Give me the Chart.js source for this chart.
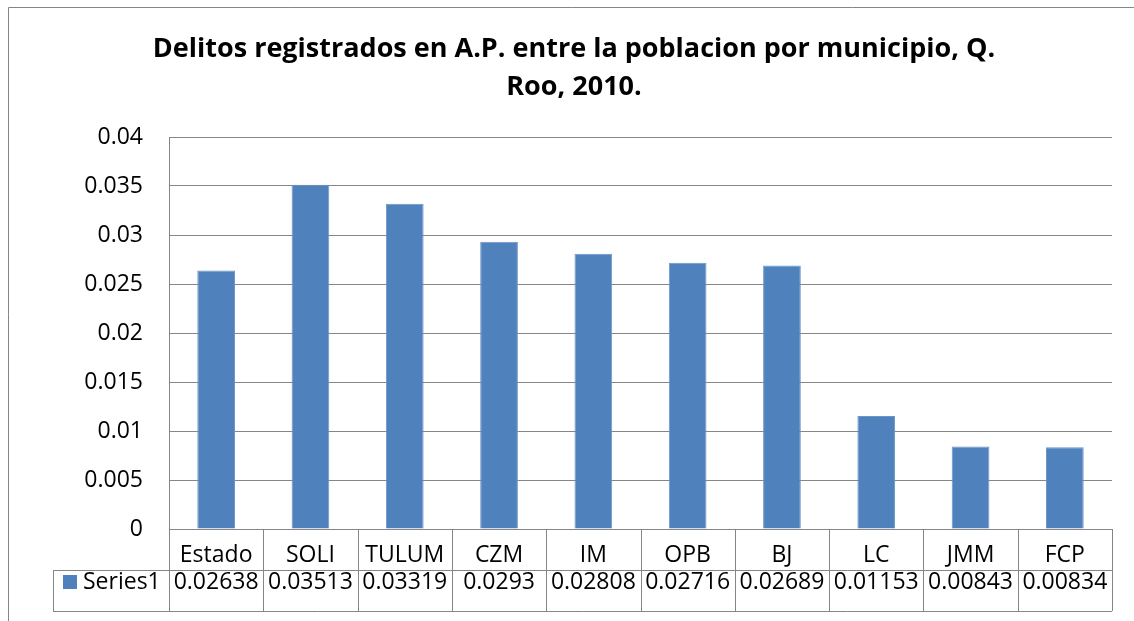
<!DOCTYPE html>
<html>
<head>
<meta charset="utf-8">
<title>Delitos registrados en A.P.</title>
<script src="https://cdn.jsdelivr.net/npm/chart.js@4.4.0/dist/chart.umd.min.js"></script>
<style>
  html, body { margin: 0; padding: 0; background: #fff; }
  #wrap { position: relative; width: 1134px; height: 621px; }
</style>
</head>
<body>
<div id="wrap"><canvas id="delitosChart"></canvas></div>
<script>
// ---- data ----
const categories = ['Estado', 'SOLI', 'TULUM', 'CZM', 'IM', 'OPB', 'BJ', 'LC', 'JMM', 'FCP'];
const series1 = [0.02638, 0.03513, 0.03319, 0.0293, 0.02808, 0.02716, 0.02689, 0.01153, 0.00843, 0.00834];
const seriesName = 'Series1';
const yTickLabels = ['0', '0.005', '0.01', '0.015', '0.02', '0.025', '0.03', '0.035', '0.04'];
const titleLines = ['Delitos registrados en A.P. entre la poblacion por municipio, Q.', 'Roo, 2010.'];

// ---- style ----
const BAR = '#4F81BD';
const GRID = '#868686';
const FONT = "'Open Sans', 'Liberation Sans', sans-serif";

Chart.defaults.font.family = FONT;
Chart.defaults.color = '#000';

// frame, title and the data table under the x axis
const excelExtras = {
  id: 'excelExtras',
  afterDraw(chart) {
    const { ctx, chartArea: a } = chart;
    const n = categories.length;
    const colW = (a.right - a.left) / n;
    const rowH = 41;
    const r1 = a.bottom + rowH;
    const r2 = a.bottom + rowH * 2;
    const legendLeft = 53;

    ctx.save();
    ctx.strokeStyle = GRID;
    ctx.lineWidth = 1;

    // outer chart frame (only top and left visible)
    ctx.beginPath();
    ctx.moveTo(8.5, 621);
    ctx.lineTo(8.5, 7.5);
    ctx.lineTo(1134, 7.5);
    ctx.stroke();

    // table grid
    ctx.beginPath();
    for (let i = 0; i <= n; i++) {
      const xx = Math.round(a.left + i * colW) + 0.5;
      ctx.moveTo(xx, a.bottom);
      ctx.lineTo(xx, r2);
    }
    ctx.moveTo(legendLeft + 0.5, r1);
    ctx.lineTo(legendLeft + 0.5, r2);
    ctx.moveTo(legendLeft, r1 + 0.5);
    ctx.lineTo(a.right, r1 + 0.5);
    ctx.moveTo(legendLeft, r2 + 0.5);
    ctx.lineTo(a.right, r2 + 0.5);
    ctx.stroke();

    // legend key + values row
    const ty = r1 + 12;
    ctx.fillStyle = BAR;
    ctx.fillRect(63, ty - 7, 14, 14);
    ctx.fillStyle = '#000';
    ctx.font = '23px ' + FONT;
    ctx.textBaseline = 'middle';
    ctx.textAlign = 'left';
    ctx.fillText(seriesName, 83, ty);
    ctx.textAlign = 'center';
    series1.forEach((v, i) => {
      ctx.fillText(String(v), a.left + (i + 0.5) * colW, ty);
    });

    // title
    ctx.font = 'bold 27px ' + FONT;
    ctx.textBaseline = 'alphabetic';
    ctx.fillText(titleLines[0], 574, 57);
    ctx.fillText(titleLines[1], 574, 95);
    ctx.restore();
  }
};

new Chart(document.getElementById('delitosChart'), {
  type: 'bar',
  data: {
    labels: categories,
    datasets: [{
      label: seriesName,
      data: series1,
      backgroundColor: BAR,
      borderColor: '#6c95c8',
      borderWidth: 1,
      categoryPercentage: 0.4,
      barPercentage: 1
    }]
  },
  options: {
    responsive: true,
    maintainAspectRatio: false,
    animation: false,
    layout: { padding: { top: 137, right: 22, bottom: 10, left: 0 } },
    plugins: {
      legend: { display: false },
      tooltip: { enabled: false }
    },
    scales: {
      x: {
        grid: { display: false },
        border: { display: true, color: GRID },
        ticks: { color: '#000', font: { size: 23 }, padding: 5 },
        afterFit: (s) => { s.height = 82; }
      },
      y: {
        min: 0,
        max: 0.04,
        grid: { color: GRID, drawTicks: false },
        border: { display: true, color: GRID },
        ticks: {
          stepSize: 0.005,
          padding: 26,
          color: '#000',
          font: { size: 23 },
          callback: (v, i) => yTickLabels[i] ?? v
        },
        afterFit: (s) => { s.width = 169; }
      }
    }
  },
  plugins: [excelExtras]
});
</script>
</body>
</html>
